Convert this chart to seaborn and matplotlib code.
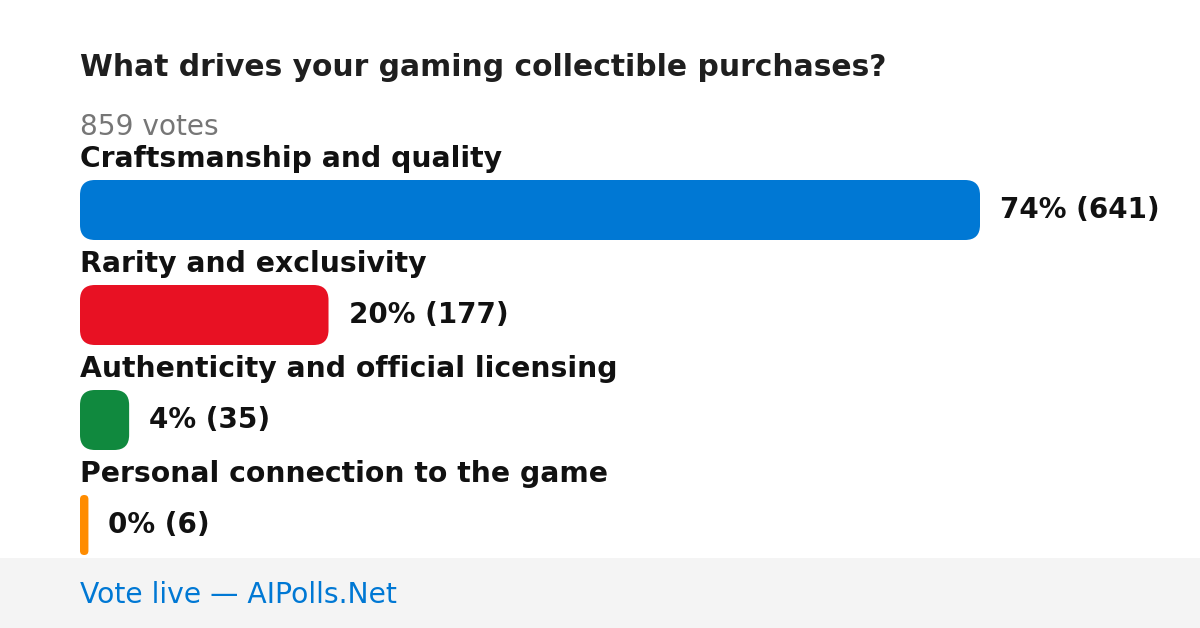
import matplotlib
matplotlib.use("Agg")
import matplotlib.pyplot as plt
import matplotlib.transforms as mtransforms
from matplotlib.patches import FancyBboxPatch, Rectangle
import seaborn as sns
import pandas as pd

# poll data
title = "What drives your gaming collectible purchases?"
total_votes = 859
options = ["Craftsmanship and quality", "Rarity and exclusivity",
           "Authenticity and official licensing", "Personal connection to the game"]
votes = [641, 177, 35, 6]
percents = [74, 20, 4, 0]
colors = ["#0078d4", "#e81123", "#10893e", "#ff8c00"]
footer = "Vote live \u2014 AIPolls.Net"

df = pd.DataFrame({"option": options, "votes": votes})

sns.set_theme(style="white")
plt.rcParams['font.family'] = ['DejaVu Sans']

W, H = 1200, 628
fig = plt.figure(figsize=(W / 100, H / 100), dpi=100)
fig.patch.set_facecolor("white")

# footer band
fig.patches.append(Rectangle((0, 0), 1, 70 / H, transform=fig.transFigure,
                             facecolor="#f4f4f4", edgecolor="none", zorder=0))
fig.text(80 / W, 33 / H, footer, color="#0078d4", fontsize=20.3, va="center", ha="left")

fig.text(80 / W, (H - 68) / H, title, color="#1f1f1f", fontsize=21.4,
         fontweight="bold", va="center", ha="left")
fig.text(80 / W, (H - 127) / H, f"{total_votes} votes", color="#767676",
         fontsize=20.2, va="center", ha="left")

# bar area: x 80..980 px, rows every 105 px, centered at 210 px
ax = fig.add_axes([80 / W, (H - 577.5) / H, 900 / W, 420 / H])
sns.barplot(data=df, x="votes", y="option", hue="option", palette=colors,
            width=60 / 105, saturation=1, legend=False, ax=ax)
ax.set_xlim(0, max(votes))
ax.set_ylim(3.5, -0.5)
ax.axis("off")

# swap plain bars for rounded ones
px_x = max(votes) / 900
px_y = 1 / 105
for p in list(ax.patches):
    x0, y0 = p.get_x(), p.get_y()
    w, h = p.get_width(), p.get_height()
    fc = p.get_facecolor()
    p.set_visible(False)
    r = min(15, w / px_x / 2)
    rb = FancyBboxPatch((x0 + r * px_x, y0 + r * px_y), w - 2 * r * px_x, h - 2 * r * px_y,
                        boxstyle=f"round,pad={r * px_x},rounding_size={r * px_x}",
                        mutation_aspect=px_y / px_x, facecolor=fc, edgecolor="none",
                        clip_on=False)
    ax.add_patch(rb)

off = mtransforms.offset_copy(ax.transData, fig=fig, x=20 * 72 / 100, y=0, units="points")
for i, (opt, v, pc) in enumerate(zip(options, votes, percents)):
    ax.text(0, i - 51 / 105, opt, fontsize=20.3, fontweight="bold", color="#111111",
            va="center", ha="left", clip_on=False)
    ax.text(v, i, f"{pc}% ({v})", transform=off, fontsize=20, fontweight="bold",
            color="#111111", va="center", ha="left", clip_on=False)

fig.savefig("out.png", dpi=100)
